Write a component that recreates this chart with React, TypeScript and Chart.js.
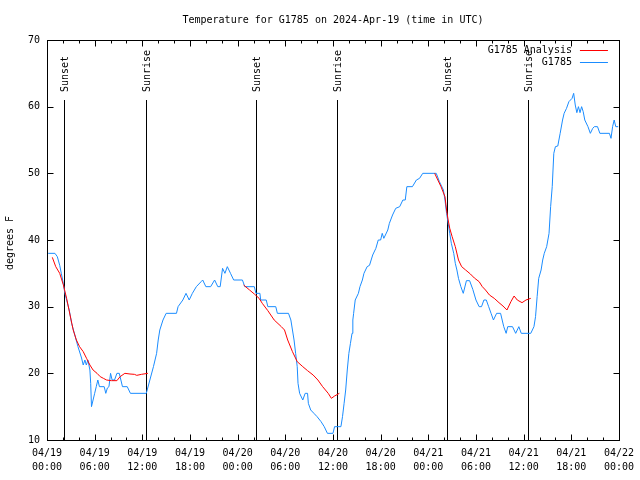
import React, { useEffect, useRef } from "react";
import { Chart, registerables } from "chart.js";

Chart.register(...registerables);

const titleText = "Temperature for G1785 on 2024-Apr-19 (time in UTC)";
const yAxisTitle = "degrees F";
const analysisName = "G1785 Analysis";
const obsName = "G1785";

// x axis in hours since 2024-04-19 00:00 UTC
const xTickDates = ["04/19", "04/19", "04/19", "04/19", "04/20", "04/20", "04/20", "04/20", "04/21", "04/21", "04/21", "04/21", "04/22"];
const xTickTimes = ["00:00", "06:00", "12:00", "18:00", "00:00", "06:00", "12:00", "18:00", "00:00", "06:00", "12:00", "18:00", "00:00"];

const sunHours = [2.17, 12.52, 26.35, 36.5, 50.4, 60.6];
const sunLabels = ["Sunset", "Sunrise", "Sunset", "Sunrise", "Sunset", "Sunrise"];

const obsHours = [
  0.15, 1.0, 1.3, 1.6, 1.8, 2.05, 2.25, 2.47, 2.8, 3.1, 3.5, 3.9, 4.35, 4.56, 4.77, 4.95, 5.15, 5.4, 5.5, 5.6,
  5.8, 6.0, 6.2, 6.4, 6.6, 7.2, 7.4, 7.6, 7.8, 8.0, 8.2, 8.5, 8.8, 9.1, 9.3, 9.5, 10.1, 10.5, 12.5, 12.95,
  13.4, 13.8, 14.0, 14.2, 14.6, 15.0, 16.3, 16.5, 17.1, 17.5, 17.9, 18.3, 18.8, 19.4, 19.6, 20.0, 20.6, 21.1, 21.5, 21.8,
  22.1, 22.4, 22.7, 23.1, 23.5, 24.6, 24.9, 26.1, 26.3, 26.8, 26.9, 27.6, 27.8, 28.8, 29.0, 30.4, 30.7, 30.9, 31.1, 31.3,
  31.5, 31.6, 31.8, 32.2, 32.5, 32.8, 32.9, 33.2, 33.6, 34.0, 34.5, 34.9, 35.3, 36.0, 36.2, 37.0, 37.2, 37.4, 37.6, 37.8,
  38.0, 38.2, 38.4, 38.5, 38.6, 38.8, 39.2, 39.4, 39.7, 39.9, 40.3, 40.6, 41.0, 41.4, 41.7, 42.0, 42.2, 42.4, 42.9, 43.1,
  43.5, 43.9, 44.4, 44.8, 45.1, 45.3, 46.0, 46.5, 46.9, 47.3, 49.0, 49.4, 49.9, 50.1, 50.3, 50.5, 50.7, 50.9, 51.2, 51.4,
  51.6, 51.8, 52.1, 52.4, 52.8, 53.2, 53.6, 54.0, 54.4, 54.7, 55.0, 55.3, 55.6, 55.9, 56.2, 56.6, 57.1, 57.5, 57.8, 58.0,
  58.6, 59.0, 59.4, 59.7, 60.9, 61.3, 61.5, 61.7, 61.9, 62.2, 62.4, 62.6, 62.9, 63.2, 63.4, 63.6, 63.8, 64.0, 64.3, 64.6,
  64.9, 65.1, 65.4, 65.7, 66.1, 66.3, 66.5, 66.7, 66.9, 67.1, 67.3, 67.5, 67.7, 68.1, 68.4, 68.7, 68.9, 69.3, 69.6, 70.8,
  71.0, 71.2, 71.4, 71.6, 71.9,
];
const obsTemps = [
  38, 38, 37.5, 36.2, 35, 33.5, 32, 31, 29.5, 27.5, 25.75, 24, 22.3, 21.25, 22, 21.25, 22, 20.5, 18.5, 15,
  16, 17, 18, 19, 18, 18, 17, 17.8, 18, 20, 19, 19, 20, 20, 19, 18, 18, 17, 17, 19,
  21, 23, 25, 26.5, 28, 29, 29, 30, 31, 32, 31, 32, 33, 33.75, 34, 33, 33, 34, 33, 33,
  35.75, 35, 36, 35, 34, 34, 33, 33, 32, 32, 31, 31, 30, 30, 29, 29, 28, 26.5, 25, 23,
  21, 18.5, 17, 16, 17, 17, 15.5, 14.5, 14, 13.5, 12.75, 12, 11, 11, 12, 12, 13.5, 15.5, 17.5, 20.5,
  23, 24.5, 26, 28, 29, 31, 32, 33, 34, 35, 36, 36.2, 37.75, 38.75, 40, 40, 41, 40.25, 41.5, 42.5,
  43.75, 44.75, 45, 46, 46, 48, 48, 49, 49.25, 50, 50, 48.75, 47.5, 46, 44, 42.5, 41, 39.5, 38, 36.5,
  35.5, 34.25, 33, 32, 33.9, 33.9, 32.6, 31, 30, 30, 31, 31, 30, 29, 28, 29, 29, 27, 26, 27,
  27, 26, 27, 26, 26, 27, 28.5, 31.5, 34.25, 35.5, 37, 38, 39, 41, 45, 48, 53, 54, 54.1, 56,
  58, 59, 59.75, 60.75, 61.25, 62, 60.25, 59.1, 60, 59.1, 60, 59.25, 58, 57, 56, 56.75, 57, 57, 56, 56,
  55.25, 57, 58, 57, 57,
];

// null values mark the daytime gaps of the analysis
const analysisHours = [
  0.67, 1.1, 1.6, 2.05, 2.47, 2.9, 3.3, 3.7, 4.1, 4.56, 4.98, 5.4, 5.8, 6.3, 6.7, 7.1, 7.5, 8.1, 8.8, 9.2,
  9.8, 10.45, 11.0, 11.3, 11.9, 12.7, 18.0,
  24.75, 25.5, 26.1, 26.7, 27.1, 27.8, 28.6, 29.5, 29.9, 30.3, 30.9, 31.5, 32.2, 32.8, 33.5, 34.1, 34.7, 35.4, 35.8,
  36.2, 36.8, 42.0,
  48.8, 49.2, 49.6, 50.1, 50.3, 50.5, 50.7, 51.0, 51.4, 51.8, 52.2, 52.7, 53.3, 53.8, 54.4, 54.8, 55.2, 55.7, 56.3, 56.9,
  57.4, 57.9, 58.4, 58.8, 59.2, 59.8, 60.3, 60.9,
];
const analysisTemps = [
  37.4, 36, 35, 33.3, 31.25, 28.75, 26.5, 25, 24, 23.25, 22.25, 21.25, 20.5, 20, 19.5, 19.25, 19, 18.9, 18.9, 19.5,
  20, 19.9, 19.85, 19.7, 19.85, 20, null,
  33.25, 32.5, 31.9, 31.25, 30.5, 29.4, 28, 27, 26.5, 25, 23.25, 21.75, 21, 20.4, 19.75, 19, 18, 17, 16.25,
  16.6, 17, null,
  50, 49, 48, 46.5, 44.5, 43, 41.75, 40.5, 39, 37, 36, 35.5, 34.9, 34.3, 33.75, 33, 32.5, 31.75, 31.25, 30.6,
  30.1, 29.5, 30.75, 31.6, 31, 30.6, 31, 31.25,
];

const FONT = "'DejaVu Sans Mono', 'Liberation Mono', monospace";
const RED = "#ff0000";
const BLUE = "#1a8cff";

const overlayPlugin = {
  id: "overlay",
  beforeDatasetsDraw(chart: any) {
    const { ctx, chartArea: a, scales } = chart;
    const x = scales.x;
    ctx.save();
    ctx.strokeStyle = "#000";
    ctx.lineWidth = 1;
    const yTop = a.bottom - 0.85 * (a.bottom - a.top);
    sunHours.forEach((h) => {
      const px = Math.round(x.getPixelForValue(h)) + 0.5;
      ctx.beginPath();
      ctx.moveTo(px, yTop);
      ctx.lineTo(px, a.bottom);
      ctx.stroke();
    });
    ctx.restore();
  },
  afterDraw(chart: any) {
    const { ctx, chartArea: a, scales } = chart;
    const x = scales.x;
    const y = scales.y;
    ctx.save();
    ctx.strokeStyle = "#000";
    ctx.fillStyle = "#000";
    ctx.lineWidth = 1;
    // frame
    const L = Math.round(a.left) + 0.5;
    const R = Math.round(a.right) + 0.5;
    const T = Math.round(a.top) + 0.5;
    const B = Math.round(a.bottom) + 0.5;
    ctx.strokeRect(L, T, R - L, B - T);
    // x ticks (inward, mirrored)
    ctx.beginPath();
    for (let h = 0; h <= 72; h += 2) {
      const px = Math.round(x.getPixelForValue(h)) + 0.5;
      const len = h % 6 === 0 ? 6 : 3;
      ctx.moveTo(px, B);
      ctx.lineTo(px, B - len);
      ctx.moveTo(px, T);
      ctx.lineTo(px, T + len);
    }
    for (let v = 10; v <= 70; v += 10) {
      const py = Math.round(y.getPixelForValue(v)) + 0.5;
      ctx.moveTo(L, py);
      ctx.lineTo(L + 6, py);
      ctx.moveTo(R, py);
      ctx.lineTo(R - 6, py);
    }
    ctx.stroke();

    ctx.font = `10px ${FONT}`;
    // sun labels
    const yTop = a.bottom - 0.85 * (a.bottom - a.top);
    sunHours.forEach((h, i) => {
      const px = Math.round(x.getPixelForValue(h)) + 1;
      ctx.save();
      ctx.translate(px, yTop - 8);
      ctx.rotate(-Math.PI / 2);
      ctx.textAlign = "left";
      ctx.textBaseline = "middle";
      ctx.fillText(sunLabels[i], 0, 0);
      ctx.restore();
    });

    // title
    ctx.textAlign = "center";
    ctx.textBaseline = "middle";
    ctx.fillText(titleText, (a.left + a.right) / 2, 20);

    // y title
    ctx.save();
    ctx.translate(10, (a.top + a.bottom) / 2 + 3);
    ctx.rotate(-Math.PI / 2);
    ctx.textAlign = "center";
    ctx.textBaseline = "middle";
    ctx.fillText(yAxisTitle, 0, 0);
    ctx.restore();

    // legend
    const entries = [
      { name: analysisName, color: RED },
      { name: obsName, color: BLUE },
    ];
    entries.forEach((e, i) => {
      const ly = Math.round(a.top) + 10 + i * 12;
      ctx.fillStyle = "#000";
      ctx.textAlign = "right";
      ctx.textBaseline = "middle";
      ctx.fillText(e.name, a.right - 47, ly);
      ctx.strokeStyle = e.color;
      ctx.beginPath();
      ctx.moveTo(a.right - 39, ly + 0.5);
      ctx.lineTo(a.right - 11, ly + 0.5);
      ctx.stroke();
    });
    ctx.restore();
  },
};

export default function App() {
  const ref = useRef<HTMLCanvasElement | null>(null);
  useEffect(() => {
    if (!ref.current) return;
    const chart = new Chart(ref.current, {
      type: "line",
      data: {
        datasets: [
          {
            label: analysisName,
            data: analysisHours.map((h, i) => ({ x: h, y: analysisTemps[i] })),
            borderColor: RED,
            borderWidth: 1,
            pointRadius: 0,
            spanGaps: false,
            tension: 0,
          },
          {
            label: obsName,
            data: obsHours.map((h, i) => ({ x: h, y: obsTemps[i] })),
            borderColor: BLUE,
            borderWidth: 1,
            pointRadius: 0,
            tension: 0,
          },
        ],
      },
      options: {
        animation: false,
        responsive: false,
        devicePixelRatio: 1,
        layout: { padding: { top: 40, right: 19, left: 0, bottom: 0 } },
        plugins: {
          legend: { display: false },
          title: { display: false },
          tooltip: { enabled: false },
        },
        scales: {
          x: {
            type: "linear",
            min: 0,
            max: 72,
            grid: { display: false, drawTicks: false },
            border: { display: false },
            afterFit: (s: any) => {
              s.height = 40;
            },
            ticks: {
              stepSize: 6,
              autoSkip: false,
              maxRotation: 0,
              padding: 6,
              color: "#000",
              font: { family: FONT, size: 10, lineHeight: 1.4 },
              callback: (v: any) => {
                const i = Math.round(Number(v) / 6);
                return [xTickDates[i], xTickTimes[i]];
              },
            },
          },
          y: {
            min: 10,
            max: 70,
            grid: { display: false, drawTicks: false },
            border: { display: false },
            afterFit: (s: any) => {
              s.width = 47;
            },
            ticks: {
              stepSize: 10,
              padding: 7,
              color: "#000",
              font: { family: FONT, size: 10 },
            },
          },
        },
      },
      plugins: [overlayPlugin],
    });
    return () => chart.destroy();
  }, []);
  return (
    <div style={{ position: "fixed", left: 0, top: 0, width: 640, height: 480, background: "#fff" }}>
      <canvas ref={ref} width={640} height={480} />
    </div>
  );
}
